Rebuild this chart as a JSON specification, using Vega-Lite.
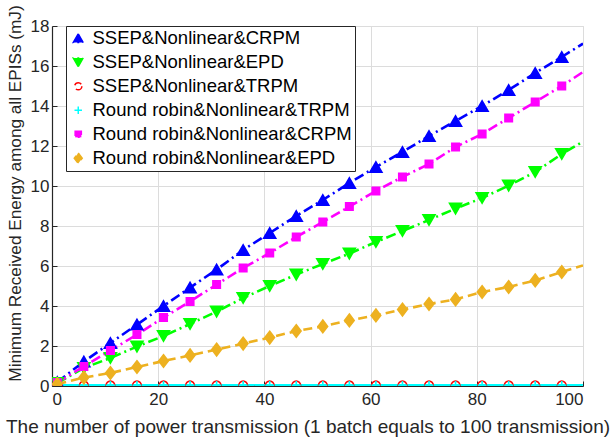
{
  "$schema": "https://vega.github.io/schema/vega-lite/v6.json",
  "width": 531,
  "height": 360,
  "autosize": {"type": "none"},
  "padding": {"left": 52, "top": 26, "right": 28, "bottom": 55},
  "background": "white",
  "config": {
    "font": "Liberation Sans",
    "view": {"stroke": "#d9d9d9", "strokeWidth": 1},
    "axis": {
      "labelFont": "Liberation Sans",
      "titleFont": "Liberation Sans",
      "labelFontSize": 17,
      "titleFontSize": 19,
      "titleFontWeight": "normal",
      "labelColor": "#262626",
      "titleColor": "#262626",
      "domainColor": "#262626",
      "domainWidth": 1.2,
      "tickColor": "#262626",
      "tickSize": -5,
      "gridColor": "#dcdcdc",
      "gridWidth": 1
    },
    "legend": {
      "orient": "none",
      "legendX": 14,
      "legendY": 0,
      "strokeColor": "#262626",
      "fillColor": "white",
      "padding": 3,
      "labelFont": "Liberation Sans",
      "labelFontSize": 18.5,
      "labelColor": "black",
      "labelOffset": 5,
      "rowPadding": 5,
      "symbolStrokeWidth": 1.5,
      "labelLimit": 400
    }
  },
  "data": {
    "values": [
      {"series": "SSEP&Nonlinear&CRPM", "x": 1, "y": 0.2},
      {"series": "SSEP&Nonlinear&CRPM", "x": 6, "y": 1.22},
      {"series": "SSEP&Nonlinear&CRPM", "x": 11, "y": 2.15},
      {"series": "SSEP&Nonlinear&CRPM", "x": 16, "y": 3.07},
      {"series": "SSEP&Nonlinear&CRPM", "x": 21, "y": 4.0},
      {"series": "SSEP&Nonlinear&CRPM", "x": 26, "y": 4.92},
      {"series": "SSEP&Nonlinear&CRPM", "x": 31, "y": 5.82},
      {"series": "SSEP&Nonlinear&CRPM", "x": 36, "y": 6.8},
      {"series": "SSEP&Nonlinear&CRPM", "x": 41, "y": 7.65},
      {"series": "SSEP&Nonlinear&CRPM", "x": 46, "y": 8.5},
      {"series": "SSEP&Nonlinear&CRPM", "x": 51, "y": 9.3},
      {"series": "SSEP&Nonlinear&CRPM", "x": 56, "y": 10.15},
      {"series": "SSEP&Nonlinear&CRPM", "x": 61, "y": 10.95},
      {"series": "SSEP&Nonlinear&CRPM", "x": 66, "y": 11.7},
      {"series": "SSEP&Nonlinear&CRPM", "x": 71, "y": 12.5},
      {"series": "SSEP&Nonlinear&CRPM", "x": 76, "y": 13.25},
      {"series": "SSEP&Nonlinear&CRPM", "x": 81, "y": 14.0},
      {"series": "SSEP&Nonlinear&CRPM", "x": 86, "y": 14.8},
      {"series": "SSEP&Nonlinear&CRPM", "x": 91, "y": 15.65},
      {"series": "SSEP&Nonlinear&CRPM", "x": 96, "y": 16.45},
      {"series": "SSEP&Nonlinear&CRPM", "x": 100, "y": 17.12},
      {"series": "SSEP&Nonlinear&EPD", "x": 1, "y": 0.15},
      {"series": "SSEP&Nonlinear&EPD", "x": 6, "y": 0.9},
      {"series": "SSEP&Nonlinear&EPD", "x": 11, "y": 1.4},
      {"series": "SSEP&Nonlinear&EPD", "x": 16, "y": 1.97},
      {"series": "SSEP&Nonlinear&EPD", "x": 21, "y": 2.5},
      {"series": "SSEP&Nonlinear&EPD", "x": 26, "y": 3.1},
      {"series": "SSEP&Nonlinear&EPD", "x": 31, "y": 3.72},
      {"series": "SSEP&Nonlinear&EPD", "x": 36, "y": 4.4},
      {"series": "SSEP&Nonlinear&EPD", "x": 41, "y": 5.0},
      {"series": "SSEP&Nonlinear&EPD", "x": 46, "y": 5.57},
      {"series": "SSEP&Nonlinear&EPD", "x": 51, "y": 6.1},
      {"series": "SSEP&Nonlinear&EPD", "x": 56, "y": 6.62},
      {"series": "SSEP&Nonlinear&EPD", "x": 61, "y": 7.2},
      {"series": "SSEP&Nonlinear&EPD", "x": 66, "y": 7.75},
      {"series": "SSEP&Nonlinear&EPD", "x": 71, "y": 8.3},
      {"series": "SSEP&Nonlinear&EPD", "x": 76, "y": 8.87},
      {"series": "SSEP&Nonlinear&EPD", "x": 81, "y": 9.4},
      {"series": "SSEP&Nonlinear&EPD", "x": 86, "y": 10.02},
      {"series": "SSEP&Nonlinear&EPD", "x": 91, "y": 10.7},
      {"series": "SSEP&Nonlinear&EPD", "x": 96, "y": 11.6},
      {"series": "SSEP&Nonlinear&EPD", "x": 100, "y": 12.22},
      {"series": "SSEP&Nonlinear&TRPM", "x": 1, "y": 0.03},
      {"series": "SSEP&Nonlinear&TRPM", "x": 6, "y": 0.03},
      {"series": "SSEP&Nonlinear&TRPM", "x": 11, "y": 0.03},
      {"series": "SSEP&Nonlinear&TRPM", "x": 16, "y": 0.03},
      {"series": "SSEP&Nonlinear&TRPM", "x": 21, "y": 0.03},
      {"series": "SSEP&Nonlinear&TRPM", "x": 26, "y": 0.03},
      {"series": "SSEP&Nonlinear&TRPM", "x": 31, "y": 0.03},
      {"series": "SSEP&Nonlinear&TRPM", "x": 36, "y": 0.03},
      {"series": "SSEP&Nonlinear&TRPM", "x": 41, "y": 0.03},
      {"series": "SSEP&Nonlinear&TRPM", "x": 46, "y": 0.03},
      {"series": "SSEP&Nonlinear&TRPM", "x": 51, "y": 0.03},
      {"series": "SSEP&Nonlinear&TRPM", "x": 56, "y": 0.03},
      {"series": "SSEP&Nonlinear&TRPM", "x": 61, "y": 0.03},
      {"series": "SSEP&Nonlinear&TRPM", "x": 66, "y": 0.03},
      {"series": "SSEP&Nonlinear&TRPM", "x": 71, "y": 0.03},
      {"series": "SSEP&Nonlinear&TRPM", "x": 76, "y": 0.03},
      {"series": "SSEP&Nonlinear&TRPM", "x": 81, "y": 0.03},
      {"series": "SSEP&Nonlinear&TRPM", "x": 86, "y": 0.03},
      {"series": "SSEP&Nonlinear&TRPM", "x": 91, "y": 0.03},
      {"series": "SSEP&Nonlinear&TRPM", "x": 96, "y": 0.03},
      {"series": "SSEP&Nonlinear&TRPM", "x": 100, "y": 0.03},
      {"series": "Round robin&Nonlinear&TRPM", "x": 1, "y": 0.03},
      {"series": "Round robin&Nonlinear&TRPM", "x": 6, "y": 0.03},
      {"series": "Round robin&Nonlinear&TRPM", "x": 11, "y": 0.03},
      {"series": "Round robin&Nonlinear&TRPM", "x": 16, "y": 0.03},
      {"series": "Round robin&Nonlinear&TRPM", "x": 21, "y": 0.03},
      {"series": "Round robin&Nonlinear&TRPM", "x": 26, "y": 0.03},
      {"series": "Round robin&Nonlinear&TRPM", "x": 31, "y": 0.03},
      {"series": "Round robin&Nonlinear&TRPM", "x": 36, "y": 0.03},
      {"series": "Round robin&Nonlinear&TRPM", "x": 41, "y": 0.03},
      {"series": "Round robin&Nonlinear&TRPM", "x": 46, "y": 0.03},
      {"series": "Round robin&Nonlinear&TRPM", "x": 51, "y": 0.03},
      {"series": "Round robin&Nonlinear&TRPM", "x": 56, "y": 0.03},
      {"series": "Round robin&Nonlinear&TRPM", "x": 61, "y": 0.03},
      {"series": "Round robin&Nonlinear&TRPM", "x": 66, "y": 0.03},
      {"series": "Round robin&Nonlinear&TRPM", "x": 71, "y": 0.03},
      {"series": "Round robin&Nonlinear&TRPM", "x": 76, "y": 0.03},
      {"series": "Round robin&Nonlinear&TRPM", "x": 81, "y": 0.03},
      {"series": "Round robin&Nonlinear&TRPM", "x": 86, "y": 0.03},
      {"series": "Round robin&Nonlinear&TRPM", "x": 91, "y": 0.03},
      {"series": "Round robin&Nonlinear&TRPM", "x": 96, "y": 0.03},
      {"series": "Round robin&Nonlinear&TRPM", "x": 100, "y": 0.03},
      {"series": "Round robin&Nonlinear&CRPM", "x": 1, "y": 0.17},
      {"series": "Round robin&Nonlinear&CRPM", "x": 6, "y": 0.98},
      {"series": "Round robin&Nonlinear&CRPM", "x": 11, "y": 1.78},
      {"series": "Round robin&Nonlinear&CRPM", "x": 16, "y": 2.57},
      {"series": "Round robin&Nonlinear&CRPM", "x": 21, "y": 3.42},
      {"series": "Round robin&Nonlinear&CRPM", "x": 26, "y": 4.23},
      {"series": "Round robin&Nonlinear&CRPM", "x": 31, "y": 5.07},
      {"series": "Round robin&Nonlinear&CRPM", "x": 36, "y": 5.9},
      {"series": "Round robin&Nonlinear&CRPM", "x": 41, "y": 6.65},
      {"series": "Round robin&Nonlinear&CRPM", "x": 46, "y": 7.45},
      {"series": "Round robin&Nonlinear&CRPM", "x": 51, "y": 8.2},
      {"series": "Round robin&Nonlinear&CRPM", "x": 56, "y": 8.97},
      {"series": "Round robin&Nonlinear&CRPM", "x": 61, "y": 9.75},
      {"series": "Round robin&Nonlinear&CRPM", "x": 66, "y": 10.45},
      {"series": "Round robin&Nonlinear&CRPM", "x": 71, "y": 11.1},
      {"series": "Round robin&Nonlinear&CRPM", "x": 76, "y": 11.95},
      {"series": "Round robin&Nonlinear&CRPM", "x": 81, "y": 12.6},
      {"series": "Round robin&Nonlinear&CRPM", "x": 86, "y": 13.4},
      {"series": "Round robin&Nonlinear&CRPM", "x": 91, "y": 14.2},
      {"series": "Round robin&Nonlinear&CRPM", "x": 96, "y": 15.0},
      {"series": "Round robin&Nonlinear&CRPM", "x": 100, "y": 15.7},
      {"series": "Round robin&Nonlinear&EPD", "x": 1, "y": 0.1},
      {"series": "Round robin&Nonlinear&EPD", "x": 6, "y": 0.42},
      {"series": "Round robin&Nonlinear&EPD", "x": 11, "y": 0.65},
      {"series": "Round robin&Nonlinear&EPD", "x": 16, "y": 0.95},
      {"series": "Round robin&Nonlinear&EPD", "x": 21, "y": 1.25},
      {"series": "Round robin&Nonlinear&EPD", "x": 26, "y": 1.53},
      {"series": "Round robin&Nonlinear&EPD", "x": 31, "y": 1.82},
      {"series": "Round robin&Nonlinear&EPD", "x": 36, "y": 2.12},
      {"series": "Round robin&Nonlinear&EPD", "x": 41, "y": 2.42},
      {"series": "Round robin&Nonlinear&EPD", "x": 46, "y": 2.75},
      {"series": "Round robin&Nonlinear&EPD", "x": 51, "y": 2.98},
      {"series": "Round robin&Nonlinear&EPD", "x": 56, "y": 3.28},
      {"series": "Round robin&Nonlinear&EPD", "x": 61, "y": 3.53},
      {"series": "Round robin&Nonlinear&EPD", "x": 66, "y": 3.82},
      {"series": "Round robin&Nonlinear&EPD", "x": 71, "y": 4.1},
      {"series": "Round robin&Nonlinear&EPD", "x": 76, "y": 4.33},
      {"series": "Round robin&Nonlinear&EPD", "x": 81, "y": 4.7},
      {"series": "Round robin&Nonlinear&EPD", "x": 86, "y": 4.95},
      {"series": "Round robin&Nonlinear&EPD", "x": 91, "y": 5.28},
      {"series": "Round robin&Nonlinear&EPD", "x": 96, "y": 5.7},
      {"series": "Round robin&Nonlinear&EPD", "x": 100, "y": 6.03}
    ]
  },
  "encoding": {
    "x": {
      "field": "x",
      "type": "quantitative",
      "scale": {"domain": [0, 100], "nice": false, "zero": false},
      "axis": {
        "title": "The number of power transmission (1 batch equals to 100 transmission)",
        "values": [0, 20, 40, 60, 80, 100],
        "labelPadding": 10,
        "titleX": 255.5,
        "titleY": 31,
        "titleBaseline": "top"
      }
    },
    "y": {
      "field": "y",
      "type": "quantitative",
      "scale": {"domain": [0, 18], "nice": false},
      "axis": {
        "title": "Minimum Received Energy among all EPISs (mJ)",
        "values": [0, 2, 4, 6, 8, 10, 12, 14, 16, 18],
        "labelPadding": 8,
        "titleFontSize": 17.2,
        "titleX": -28,
        "titleY": 167,
        "titleBaseline": "bottom"
      }
    },
    "color": {
      "field": "series",
      "type": "nominal",
      "scale": {
        "domain": ["SSEP&Nonlinear&CRPM", "SSEP&Nonlinear&EPD", "SSEP&Nonlinear&TRPM", "Round robin&Nonlinear&TRPM", "Round robin&Nonlinear&CRPM", "Round robin&Nonlinear&EPD"],
        "range": ["#0000FF", "#00FF00", "#FF0000", "#00FFFF", "#FF00FF", "#EDB120"]
      },
      "legend": {"title": null}
    }
  },
  "layer": [
    {
      "mark": {"type": "line", "strokeWidth": 2.6, "clip": true},
      "encoding": {
        "strokeDash": {
          "field": "series",
          "type": "nominal",
          "scale": {
            "domain": ["SSEP&Nonlinear&CRPM", "SSEP&Nonlinear&EPD", "SSEP&Nonlinear&TRPM", "Round robin&Nonlinear&TRPM", "Round robin&Nonlinear&CRPM", "Round robin&Nonlinear&EPD"],
            "range": [[10, 4, 2, 4], [10, 4, 2, 4], [8, 4], [1, 0], [10, 4, 2, 4], [9, 5]]
          },
          "legend": null
        },
        "order": {"field": "x", "type": "quantitative"}
      }
    },
    {
      "transform": [{"filter": "datum.x < 100"}],
      "mark": {"type": "point", "strokeWidth": 1.6, "opacity": 1, "size": 144, "clip": true},
      "encoding": {
        "shape": {
          "field": "series",
          "type": "nominal",
          "scale": {
            "domain": ["SSEP&Nonlinear&CRPM", "SSEP&Nonlinear&EPD", "SSEP&Nonlinear&TRPM", "Round robin&Nonlinear&TRPM", "Round robin&Nonlinear&CRPM", "Round robin&Nonlinear&EPD"],
            "range": [
              "M0,-0.87L1,0.87L-1,0.87Z",
              "M0,0.87L1,-0.87L-1,-0.87Z",
              "M0.72,0A0.72,0.72 0 1,1 -0.72,0A0.72,0.72 0 1,1 0.72,0Z",
              "M-0.75,0L0.75,0M0,-0.75L0,0.75",
              "M-0.62,-0.62L0.62,-0.62L0.62,0.62L-0.62,0.62Z",
              "M0,-1.05L0.8,0L0,1.05L-0.8,0Z"
            ]
          },
          "legend": {"title": null}
        },
        "fill": {
          "field": "series",
          "type": "nominal",
          "scale": {
            "domain": ["SSEP&Nonlinear&CRPM", "SSEP&Nonlinear&EPD", "SSEP&Nonlinear&TRPM", "Round robin&Nonlinear&TRPM", "Round robin&Nonlinear&CRPM", "Round robin&Nonlinear&EPD"],
            "range": ["#0000FF", "#00FF00", "transparent", "transparent", "#FF00FF", "#EDB120"]
          },
          "legend": {"title": null}
        }
      }
    }
  ]
}
